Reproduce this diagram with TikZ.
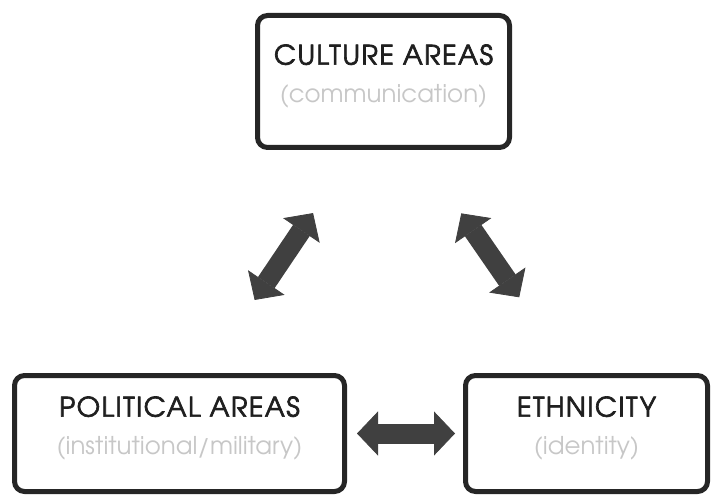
\documentclass[tikz,border=0pt]{standalone}
\usepackage{fontspec}
\setmainfont{TeX Gyre Adventor}
\newfontfamily\areatitle[FakeBold=2.5,LetterSpace=5.5]{TeX Gyre Adventor}
\usetikzlibrary{arrows.meta}
\usetikzlibrary{positioning}

\begin{document}
\begin{tikzpicture}[line cap=round,line join=round,x=1pt,y=1pt,
  areabox/.style={draw=black!85,line width=5pt,rounded corners=10pt,fill=white,
    align=center,inner sep=0pt,text depth=16pt,font=\fontsize{24.5}{38}\selectfont},
  fatarrow/.style={line width=20pt,line cap=butt,draw=black!75,
    {Triangle[length=21pt,width=44pt,line width=0.8pt,fill=black!75]}-{Triangle[length=21pt,width=44pt,line width=0.8pt,fill=black!75]}}]
\useasboundingbox (0,0) rectangle (712,-497);
\node[areabox,minimum width=252,minimum height=132] (culture) at (383.5,-81.5)
  {{\areatitle\fontsize{27}{38}\selectfont\color{black!88}CULTURE AREAS}\\{\color{black!22}(communication)}};
\node[areabox,minimum width=330,minimum height=116] (political) at (179.5,-433.5)
  {{\areatitle\fontsize{27}{38}\selectfont\color{black!88}POLITICAL AREAS}\\{\color{black!22}(institutional/military)}};
\node[areabox,minimum width=242,minimum height=116] (ethnicity) at (586.5,-433.5)
  {{\areatitle\fontsize{27}{38}\selectfont\color{black!88}ETHNICITY}\\{\color{black!22}(identity)}};
% double arrows between the areas
\draw[fatarrow,shorten <=88pt,shorten >=76pt] ([xshift=26pt]political.north) -- ([xshift=-28pt]culture.south);
\draw[fatarrow,shorten <=77pt,shorten >=92pt] ([xshift=34pt]culture.south) -- ([xshift=-15pt]ethnicity.north);
\draw[fatarrow,shorten <=10pt,shorten >=8pt] (political.east) -- (ethnicity.west);
\end{tikzpicture}
\end{document}
